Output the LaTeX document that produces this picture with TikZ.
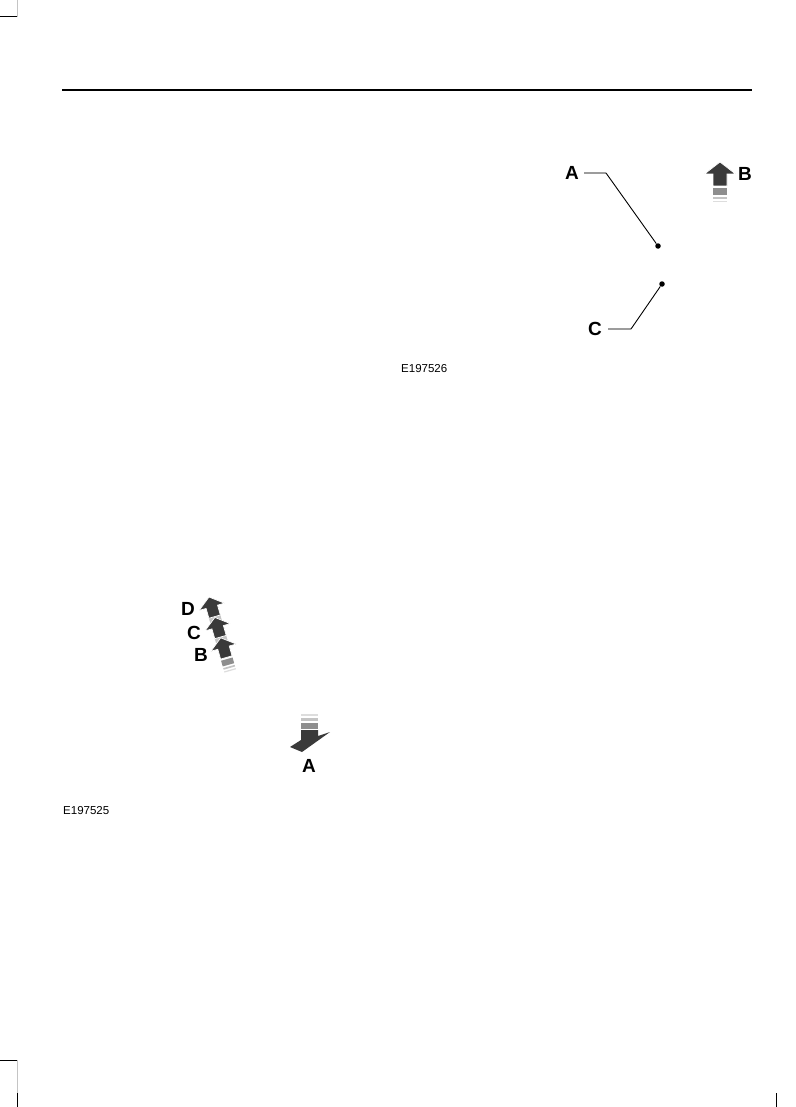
\documentclass[tikz,border=0pt]{standalone}
\usepackage{fontspec}
\setmainfont{Liberation Sans}
\usetikzlibrary{positioning,calc}
\definecolor{arrowdark}{HTML}{3A3A3A}
\definecolor{arrowmid}{HTML}{8E8E8E}
\definecolor{arrowlight}{HTML}{C4C4C4}
\definecolor{arrowpale}{HTML}{DDDDDD}
\definecolor{leadergray}{HTML}{9C9C9C}
\tikzstyle{callout} = [font=\fontsize{19}{21}\selectfont\bfseries, inner sep=0pt]
\tikzstyle{figcode} = [font=\fontsize{11.5}{13}\selectfont, inner sep=0pt, anchor=west]
\tikzstyle{leader} = [line width=0.9pt, black]
\tikzstyle{leaderstub} = [line width=1.2pt, leadergray]
\tikzstyle{spot} = [circle, fill=black, inner sep=0pt, minimum size=5.5pt]
\tikzstyle{cropmark} = [line width=1pt]
\tikzset{
  uparrowhead/.pic={
    \fill[arrowdark, draw=white, line width=0.7pt]
      (0,0) -- (15.5,12) -- (7,12) -- (7,24) -- (-7,24) -- (-7,12) -- (-15.5,12) -- cycle;
  },
  fadebars/.pic={
    \fill[arrowmid] (-7,26) rectangle (7,33);
    \fill[arrowlight] (-7,35) rectangle (7,37);
    \fill[arrowpale] (-7,39) rectangle (7,40.5);
  }
}
\begin{document}
\begin{tikzpicture}[x=1pt, y=-1pt]
\useasboundingbox (0,0) rectangle (795,1107);
% page furniture
\draw[cropmark] (0,17) -- (17,17);
\draw[cropmark, arrowlight] (17,0) -- (17,17);
\draw[cropmark] (0,1060) -- (17,1060);
\draw[cropmark, arrowlight] (17,1060) -- (17,1093);
\draw[cropmark] (17,1093) -- (17,1107);
\draw[cropmark] (776,1093) -- (776,1107);
\draw[line width=1.2pt] (62,90) -- (752,90);

% upper figure
\node[callout] (lblA) at (572,173) {A};
\node[spot] (dotA) at (658,246) {};
\coordinate (kneeA) at (606,173);
\draw[leaderstub] ([xshift=5pt]lblA.east) -- (kneeA);
\draw[leader] (kneeA) -- (dotA);

\node[callout] (lblC) at (595,329) {C};
\node[spot] (dotC) at (662,284) {};
\coordinate (kneeC) at (631,329);
\draw[leaderstub] ([xshift=6pt]lblC.east) -- (kneeC);
\draw[leader] (kneeC) -- (dotC);

\pic at (720,162) {uparrowhead};
\pic at (720,162) {fadebars};
\node[callout] (lblB) at (745,174) {B};

\node[figcode] (codeTop) at (401,369) {E197526};

% lower figure
\begin{scope}[shift={(209,597)}, rotate=16, scale=0.85, transform shape]
  \fill[arrowlight] (-7,22) rectangle (7,30);
  \fill[arrowlight] (-7,47) rectangle (7,55);
  \pic at (0,50) {fadebars};
  \pic at (0,50) {uparrowhead};
  \pic at (0,25) {uparrowhead};
  \pic at (0,0) {uparrowhead};
\end{scope}
\node[callout] (lblD2) at (188,609) {D};
\node[callout] (lblC2) at (194,633) {C};
\node[callout] (lblB2) at (201,655) {B};

\fill[arrowpale] (301,714) rectangle (318,716);
\fill[arrowlight] (301,718) rectangle (318,721);
\fill[arrowmid] (301,723) rectangle (318,729);
\fill[arrowdark] (301,730) -- (318,730) -- (318,736) -- (330,732) -- (302,752)
  -- (290,747) -- (301,740) -- cycle;
\node[callout] (lblA2) at (309,766) {A};

\node[figcode] (codeBottom) at (63,811) {E197525};
\end{tikzpicture}
\end{document}
